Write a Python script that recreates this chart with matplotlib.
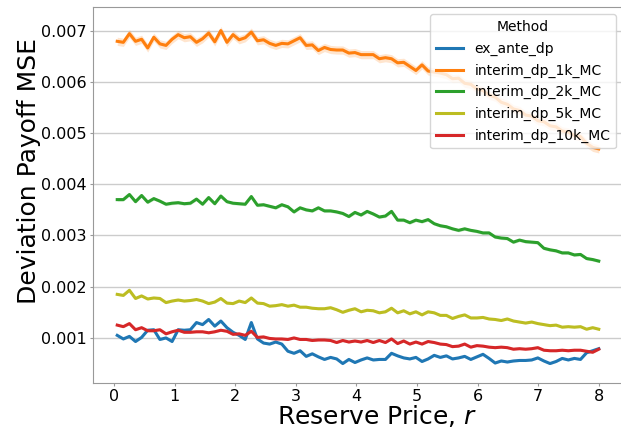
import numpy as np
import matplotlib
matplotlib.use("Agg")
import matplotlib.pyplot as plt

# reserve price grid
r = np.linspace(0.05, 8.0, 80)

# deviation payoff MSE (units of 1e-3)
ex_ante_dp = [1.05, 0.98, 1.03, 0.93, 1.01, 1.15, 1.16, 0.97, 1.00, 0.93,
              1.16, 1.15, 1.16, 1.30, 1.26, 1.36, 1.23, 1.33, 1.20, 1.11,
              1.05, 0.97, 1.30, 0.98, 0.90, 0.88, 0.92, 0.88, 0.74, 0.70,
              0.75, 0.64, 0.69, 0.63, 0.58, 0.62, 0.59, 0.50, 0.58, 0.52,
              0.57, 0.61, 0.57, 0.58, 0.58, 0.70, 0.65, 0.61, 0.59, 0.62,
              0.54, 0.59, 0.66, 0.62, 0.65, 0.59, 0.61, 0.64, 0.58, 0.63,
              0.68, 0.60, 0.51, 0.55, 0.53, 0.55, 0.56, 0.56, 0.57, 0.61,
              0.55, 0.50, 0.54, 0.60, 0.57, 0.60, 0.58, 0.71, 0.75, 0.79]

mc_1k = [6.79, 6.77, 6.94, 6.79, 6.83, 6.66, 6.87, 6.74, 6.71, 6.83,
         6.92, 6.86, 6.88, 6.77, 6.84, 6.95, 6.78, 7.00, 6.77, 6.92,
         6.82, 6.86, 6.97, 6.80, 6.82, 6.75, 6.71, 6.75, 6.74, 6.80,
         6.86, 6.71, 6.72, 6.61, 6.67, 6.63, 6.62, 6.62, 6.56, 6.57,
         6.53, 6.53, 6.53, 6.45, 6.47, 6.45, 6.37, 6.38, 6.30, 6.22,
         6.33, 6.21, 6.19, 6.17, 6.14, 6.06, 6.07, 5.97, 5.95, 5.86,
         5.83, 5.74, 5.70, 5.60, 5.56, 5.47, 5.44, 5.35, 5.33, 5.24,
         5.22, 5.14, 5.12, 5.04, 5.02, 4.95, 4.93, 4.80, 4.72, 4.69]

mc_2k = [3.70, 3.70, 3.80, 3.66, 3.78, 3.65, 3.72, 3.67, 3.61, 3.63,
         3.64, 3.62, 3.63, 3.71, 3.61, 3.74, 3.62, 3.77, 3.66, 3.63,
         3.62, 3.61, 3.76, 3.59, 3.60, 3.57, 3.54, 3.60, 3.56, 3.46,
         3.54, 3.50, 3.48, 3.54, 3.48, 3.48, 3.46, 3.43, 3.37, 3.45,
         3.40, 3.47, 3.42, 3.36, 3.38, 3.47, 3.30, 3.30, 3.25, 3.30,
         3.27, 3.31, 3.23, 3.19, 3.17, 3.13, 3.10, 3.13, 3.10, 3.08,
         3.05, 3.05, 2.97, 2.95, 2.94, 2.87, 2.91, 2.88, 2.87, 2.86,
         2.75, 2.72, 2.70, 2.66, 2.66, 2.62, 2.63, 2.55, 2.53, 2.50]

mc_5k = [1.85, 1.83, 1.93, 1.77, 1.82, 1.76, 1.78, 1.77, 1.69, 1.72,
         1.74, 1.72, 1.73, 1.75, 1.72, 1.67, 1.70, 1.77, 1.68, 1.67,
         1.72, 1.69, 1.78, 1.68, 1.67, 1.62, 1.63, 1.65, 1.62, 1.64,
         1.60, 1.60, 1.58, 1.57, 1.57, 1.59, 1.55, 1.50, 1.54, 1.57,
         1.51, 1.54, 1.53, 1.49, 1.51, 1.58, 1.49, 1.53, 1.47, 1.51,
         1.45, 1.51, 1.49, 1.44, 1.44, 1.38, 1.42, 1.45, 1.39, 1.39,
         1.40, 1.37, 1.36, 1.34, 1.37, 1.33, 1.31, 1.29, 1.31, 1.28,
         1.26, 1.24, 1.25, 1.21, 1.22, 1.21, 1.22, 1.17, 1.20, 1.17]

mc_10k = [1.25, 1.22, 1.28, 1.16, 1.20, 1.14, 1.14, 1.16, 1.08, 1.12,
          1.15, 1.11, 1.11, 1.12, 1.12, 1.10, 1.12, 1.15, 1.13, 1.07,
          1.08, 1.05, 1.13, 1.01, 1.02, 0.99, 0.98, 0.98, 0.97, 1.00,
          0.97, 0.97, 0.95, 0.96, 0.96, 0.95, 0.91, 0.95, 0.92, 0.94,
          0.92, 0.95, 0.91, 0.95, 0.91, 0.98, 0.89, 0.94, 0.88, 0.92,
          0.88, 0.93, 0.91, 0.88, 0.87, 0.83, 0.84, 0.88, 0.82, 0.85,
          0.84, 0.82, 0.81, 0.82, 0.81, 0.78, 0.79, 0.78, 0.79, 0.81,
          0.76, 0.75, 0.75, 0.76, 0.75, 0.76, 0.76, 0.74, 0.72, 0.78]

# half width of the confidence band (units of 1e-3)
ci_halfwidth = [0.02, 0.08, 0.03, 0.02, 0.02]

labels = ["ex_ante_dp", "interim_dp_1k_MC", "interim_dp_2k_MC",
          "interim_dp_5k_MC", "interim_dp_10k_MC"]
colors = ["#1f77b4", "#ff7f0e", "#2ca02c", "#bcbd22", "#d62728"]
series = [ex_ante_dp, mc_1k, mc_2k, mc_5k, mc_10k]

fig = plt.figure(figsize=(6.21, 4.28), dpi=100)
ax = fig.add_axes([93 / 621, 45 / 428, 530 / 621, 375.5 / 428])

for vals, ci, lab, col in zip(series, ci_halfwidth, labels, colors):
    y = np.array(vals) * 1e-3
    ax.fill_between(r, y - ci * 1e-3, y + ci * 1e-3, color=col, alpha=0.2, lw=0)
    ax.plot(r, y, color=col, lw=2.2, label=lab)

ax.set_xlim(-0.35, 8.4)
ax.set_ylim(0.00012, 0.00745)
ax.set_xticks(range(0, 9))
ax.set_yticks([0.001, 0.002, 0.003, 0.004, 0.005, 0.006, 0.007])
ax.set_yticklabels(["0.001", "0.002", "0.003", "0.004", "0.005", "0.006", "0.007"])
ax.grid(axis="y", color="#cccccc", lw=1)
ax.set_axisbelow(True)
for s in ax.spines.values():
    s.set_color("#999999")
ax.tick_params(labelsize=11.5, color="#999999", length=2.5, pad=2)

ax.set_xlabel("Reserve Price, $r$", fontsize=18)
ax.set_ylabel("Deviation Payoff MSE", fontsize=18)
ax.xaxis.set_label_coords(0.536, -0.054)
ax.yaxis.set_label_coords(-0.098, 0.565)

leg = ax.legend(title="Method", loc="upper right", fontsize=10,
                title_fontsize=10, labelspacing=0.55)

fig.savefig("out.png", dpi=100)
